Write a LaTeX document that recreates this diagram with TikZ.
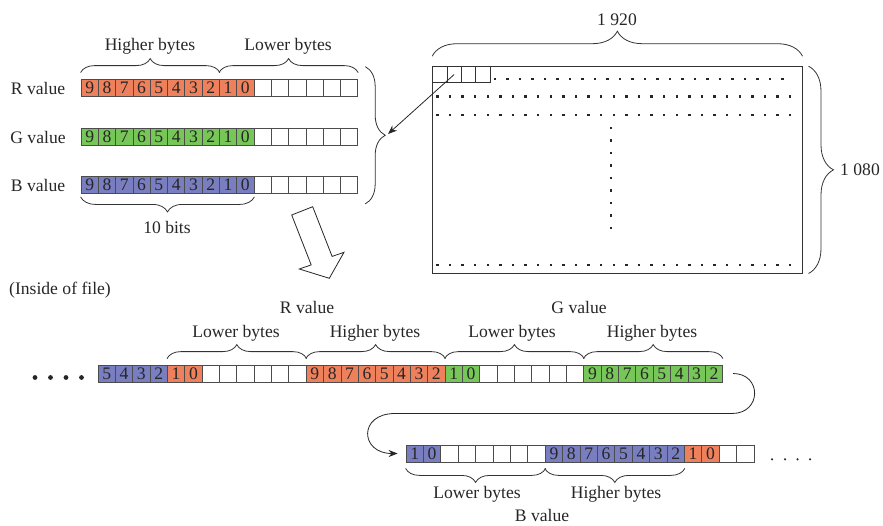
\documentclass[tikz,border=0pt]{standalone}
\usepackage{fontspec}
\setmainfont{Liberation Serif}
\usetikzlibrary{decorations.pathreplacing,arrows.meta}
\definecolor{oo}{RGB}{238,128,92}
\definecolor{gg}{RGB}{118,198,88}
\definecolor{bb}{RGB}{120,126,192}
\colorlet{ww}{white}
\colorlet{edgec}{black!70}
\newcommand\cellrow[5]{\foreach \c/\t [count=\i from 0] in {#5}{\node[cellbox,fill=\c,minimum width=#4pt] (#1\i) at ({#2+(\i+0.5)*#4},#3) {\t};}}
\tikzset{
 cellbox/.style={draw=edgec, line width=0.8pt, minimum height=17pt, inner sep=0pt, text=black!85, font=\fontsize{17.6}{18}\selectfont},
 lbl/.style={inner sep=0pt, text=black!85, font=\fontsize{17.6}{20}\selectfont},
 brc/.style={decorate, decoration={brace, amplitude=#1}, line width=0.8pt, draw=black!80},
 brc/.default=14pt,
 dotsq/.style={fill=black!85},
 conn/.style={line width=0.8pt, draw=black!85, -{Stealth[length=9pt,width=7pt]}},
}
\begin{document}
\begin{tikzpicture}[x=1pt,y=-1pt]
\useasboundingbox (0,0) rectangle (883,525);

% ---- top registers ----
\cellrow{R}{81}{87.5}{17.3}{oo/9,oo/8,oo/7,oo/6,oo/5,oo/4,oo/3,oo/2,oo/1,oo/0,ww/{},ww/{},ww/{},ww/{},ww/{},ww/{}}
\cellrow{G}{81}{136.5}{17.3}{gg/9,gg/8,gg/7,gg/6,gg/5,gg/4,gg/3,gg/2,gg/1,gg/0,ww/{},ww/{},ww/{},ww/{},ww/{},ww/{}}
\cellrow{B}{81}{185}{17.3}{bb/9,bb/8,bb/7,bb/6,bb/5,bb/4,bb/3,bb/2,bb/1,bb/0,ww/{},ww/{},ww/{},ww/{},ww/{},ww/{}}

\node[lbl] (tR) at (38,88) {R value};
\node[lbl] (tG) at (38,137) {G value};
\node[lbl] (tB) at (38,185) {B value};

\draw[brc] ([yshift=6pt]R0.north west) -- ([yshift=6pt]R7.north east);
\draw[brc] ([yshift=6pt]R8.north west) -- ([yshift=6pt]R15.north east);
\node[lbl] (tHi) at (150,46) {Higher bytes};
\node[lbl] (tLo) at (288,46) {Lower bytes};
\draw[brc=15pt] ([yshift=-3pt]B9.south east) -- ([yshift=-3pt]B0.south west);
\node[lbl] (t10) at (167,227) {10 bits};

\coordinate (rb1) at ([xshift=7pt,yshift=12pt]R15.north east);
\coordinate (rb2) at ([xshift=7pt,yshift=-10pt]B15.south east);
\draw[brc=20pt] (rb1) -- (rb2);
\coordinate (rbtip) at (388,134);

% ---- frame ----
\node[draw=black!80, line width=1pt, minimum width=369.3pt, minimum height=206.3pt, inner sep=0pt] (frame) at (617.35,169.85) {};
\foreach \k in {0,...,3}{\node[draw=black!80, line width=0.8pt, minimum width=14.3pt, minimum height=15.6pt, inner sep=0pt] (f\k) at ({432.7+(\k+0.5)*14.3},74.5) {};}
\foreach \k in {0,...,23}{\fill[dotsq] ({495+12.5*\k-1.2},{79-1.2}) rectangle ++(2.4,2.4);}
\foreach \yy in {96.3,114.7,265}{\foreach \k in {0,...,28}{\fill[dotsq] ({437.3+12.6*\k-1.2},{\yy-1.2}) rectangle ++(2.4,2.4);}}
\foreach \k in {0,...,8}{\fill[dotsq] ({611-1.2},{128+12.5*\k-1.2}) rectangle ++(2.4,2.4);}
\draw[brc=25pt] ([yshift=10pt]frame.north west) -- ([yshift=10pt]frame.north east);
\draw[brc=25pt] ([xshift=6pt]frame.north east) -- ([xshift=6pt]frame.south east);
\node[lbl] (t1920) at (617,20) {1 920};
\node[lbl,anchor=west] (t1080) at (840,170) {1 080};

\draw[conn] (f1.center) -- (rbtip);

% ---- hollow arrow ----
\draw[line width=0.8pt, draw=black!85, fill=white] (291.7,215) -- (312.7,206.7) -- (332.1,256.4) -- (344,252.3) -- (329.3,278.3) -- (299.3,269) -- (311.2,264.9) -- cycle;

% ---- file contents ----
\node[lbl] (tin) at (60,290) {(Inside of file)};
\foreach \xx in {35,50.5,66,81.5}{\fill[black!85] (\xx,377.5) circle (2.4);}
\cellrow{L}{98}{373.5}{17.35}{bb/5,bb/4,bb/3,bb/2,oo/1,oo/0,ww/{},ww/{},ww/{},ww/{},ww/{},ww/{},oo/9,oo/8,oo/7,oo/6,oo/5,oo/4,oo/3,oo/2,gg/1,gg/0,ww/{},ww/{},ww/{},ww/{},ww/{},ww/{},gg/9,gg/8,gg/7,gg/6,gg/5,gg/4,gg/3,gg/2}
\draw[brc] ([yshift=6pt]L4.north west) -- ([yshift=6pt]L11.north east);
\draw[brc] ([yshift=6pt]L12.north west) -- ([yshift=6pt]L19.north east);
\draw[brc] ([yshift=6pt]L20.north west) -- ([yshift=6pt]L27.north east);
\draw[brc] ([yshift=6pt]L28.north west) -- ([yshift=6pt]L35.north east);
\node[lbl] (tRv) at (307,307) {R value};
\node[lbl] (tRl) at (236,333) {Lower bytes};
\node[lbl] (tRh) at (375,333) {Higher bytes};
\node[lbl] (tGv) at (579,307) {G value};
\node[lbl] (tGl) at (512,333) {Lower bytes};
\node[lbl] (tGh) at (652,333) {Higher bytes};

\cellrow{M}{406}{453.5}{17.4}{bb/1,bb/0,ww/{},ww/{},ww/{},ww/{},ww/{},ww/{},bb/9,bb/8,bb/7,bb/6,bb/5,bb/4,bb/3,bb/2,oo/1,oo/0,ww/{},ww/{}}
\foreach \xx in {772,785,797.5,810}{\fill[black!85] (\xx,459.3) circle (1.2);}
\draw[brc] ([yshift=-6pt]M7.south east) -- ([yshift=-6pt]M0.south west);
\draw[brc] ([yshift=-6pt]M15.south east) -- ([yshift=-6pt]M8.south west);
\node[lbl] (tBl) at (477,494) {Lower bytes};
\node[lbl] (tBh) at (616,494) {Higher bytes};
\node[lbl] (tBv) at (542,515.5) {B value};

\coordinate (cs) at ([xshift=10pt]L35.east);
\coordinate (ce) at ([xshift=-8pt]M0.west);
\draw[conn] (cs) .. controls (762,373.5) and (762,413.5) .. (732,413.5) -- (395,413.5) .. controls (358,413.5) and (360,453.5) .. (ce);
\end{tikzpicture}
\end{document}
